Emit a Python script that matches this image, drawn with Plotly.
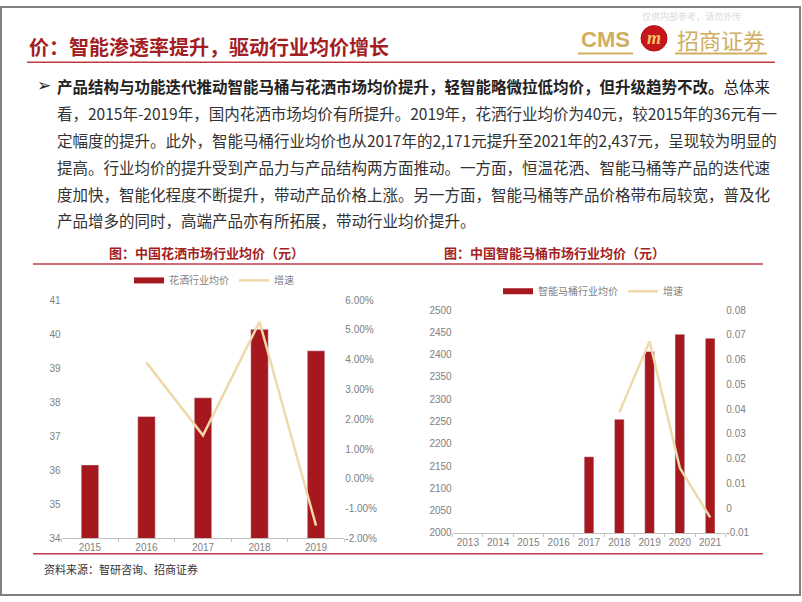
import plotly.graph_objects as go

W, H = 802, 602

# ---------------- data ----------------
shower_years = ['2015', '2016', '2017', '2018', '2019']
shower_price = [36.16, 37.58, 38.13, 40.14, 39.51]
shower_growth = [None, 0.039, 0.0146, 0.0527, -0.0157]

toilet_years = ['2013', '2014', '2015', '2016', '2017', '2018', '2019', '2020', '2021']
toilet_price = [None, None, None, None, 2171, 2255, 2407, 2446, 2437]
toilet_growth = [None, None, None, None, None, 0.0387, 0.0674, 0.0162, -0.0037]

shower_pct_ticks = [-0.02, -0.01, 0.0, 0.01, 0.02, 0.03, 0.04, 0.05, 0.06]
shower_pct_text = ['-2.00%', '-1.00%', '0.00%', '1.00%', '2.00%', '3.00%', '4.00%', '5.00%', '6.00%']
toilet_g_ticks = [-0.01, 0.0, 0.01, 0.02, 0.03, 0.04, 0.05, 0.06, 0.07, 0.08]
toilet_g_text = ['-0.01', '0', '0.01', '0.02', '0.03', '0.04', '0.05', '0.06', '0.07', '0.08']

header = '价：智能渗透率提升，驱动行业均价增长'
body_bold = '产品结构与功能迭代推动智能马桶与花洒市场均价提升，轻智能略微拉低均价，但升级趋势不改。'
body_lines = [
    '总体来',
    '看，2015年-2019年，国内花洒市场均价有所提升。2019年，花洒行业均价为40元，较2015年的36元有一',
    '定幅度的提升。此外，智能马桶行业均价也从2017年的2,171元提升至2021年的2,437元，呈现较为明显的',
    '提高。行业均价的提升受到产品力与产品结构两方面推动。一方面，恒温花洒、智能马桶等产品的迭代速',
    '度加快，智能化程度不断提升，带动产品价格上涨。另一方面，智能马桶等产品价格带布局较宽，普及化',
    '产品增多的同时，高端产品亦有所拓展，带动行业均价提升。',
]
title_left = '图：中国花洒市场行业均价（元）'
title_right = '图：中国智能马桶市场行业均价（元）'
source = '资料来源：智研咨询、招商证券'

# ---------------- styles ----------------
BAR = '#A5191E'
LINE = '#EFD9AA'
DARKRED = '#A31E22'
SEP = '#C23B4E'
GOLD = '#CFAE62'
TICKFONT = dict(family='Liberation Sans Narrow, Arial Narrow, Liberation Sans, sans-serif', size=10, color='#808080')
CJK = 'Noto Sans CJK SC, sans-serif'


def fx(x):
    return x / W


def fy(y):
    return 1 - y / H


fig = go.Figure()

# left chart
fig.add_trace(go.Bar(x=shower_years, y=shower_price, marker_color=BAR, width=0.31,
                     xaxis='x', yaxis='y', showlegend=False, name='花洒行业均价'))
fig.add_trace(go.Scatter(x=[None], y=[None], mode='lines', line=dict(color=BAR, width=6),
                         name='花洒行业均价', xaxis='x', yaxis='y', legend='legend'))
fig.add_trace(go.Scatter(x=shower_years, y=shower_growth, mode='lines', line=dict(color=LINE, width=2.5),
                         name='增速', xaxis='x', yaxis='y2', legend='legend'))

# right chart
fig.add_trace(go.Bar(x=toilet_years, y=toilet_price, marker_color=BAR, width=0.32,
                     xaxis='x2', yaxis='y3', showlegend=False, name='智能马桶行业均价'))
fig.add_trace(go.Scatter(x=[None], y=[None], mode='lines', line=dict(color=BAR, width=6),
                         name='智能马桶行业均价', xaxis='x2', yaxis='y3', legend='legend2'))
fig.add_trace(go.Scatter(x=toilet_years, y=toilet_growth, mode='lines', line=dict(color=LINE, width=2.5),
                         name='增速', xaxis='x2', yaxis='y4', legend='legend2'))

xcommon = dict(type='category', showgrid=False, showline=True, linecolor='#BFBFBF', linewidth=1,
               ticks='outside', tickson='boundaries', ticklen=3, tickcolor='#BFBFBF',
               tickfont=TICKFONT, tickangle=0, zeroline=False, fixedrange=True)
ycommon = dict(showgrid=False, showline=False, zeroline=False, ticks='', tickfont=TICKFONT, fixedrange=True)

fig.update_layout(
    width=W, height=H,
    margin=dict(l=0, r=0, t=0, b=0),
    paper_bgcolor='white', plot_bgcolor='white',
    xaxis=dict(domain=[fx(61.7), fx(344.3)], anchor='y', **xcommon),
    yaxis=dict(domain=[fy(543.3), fy(300)], range=[34, 41], dtick=1, anchor='x', **ycommon),
    yaxis2=dict(overlaying='y', side='right', anchor='x', range=[-0.02, 0.06],
                tickvals=shower_pct_ticks, ticktext=shower_pct_text, **ycommon),
    xaxis2=dict(domain=[fx(452.7), fx(725.3)], anchor='y3', **xcommon),
    yaxis3=dict(domain=[fy(537.7), fy(310.3)], range=[2000, 2500], dtick=50, anchor='x2', **ycommon),
    yaxis4=dict(overlaying='y3', side='right', anchor='x2', range=[-0.01, 0.08],
                tickvals=toilet_g_ticks, ticktext=toilet_g_text, **ycommon),
    legend=dict(orientation='h', x=fx(214), y=fy(280), xanchor='center', yanchor='middle',
                font=dict(family=CJK, size=10, color='#7F7F7F'), bgcolor='rgba(0,0,0,0)',
                itemwidth=30, tracegroupgap=0),
    legend2=dict(orientation='h', x=fx(593), y=fy(291), xanchor='center', yanchor='middle',
                 font=dict(family=CJK, size=10, color='#7F7F7F'), bgcolor='rgba(0,0,0,0)',
                 itemwidth=30, tracegroupgap=0),
)

shapes = []


def hline(x0, x1, y, color, width):
    shapes.append(dict(type='line', xref='paper', yref='paper', x0=fx(x0), x1=fx(x1), y0=fy(y), y1=fy(y),
                       line=dict(color=color, width=width)))


hline(27, 775, 57.5, '#C0393F', 1.5)
hline(33, 763, 263.3, SEP, 1.5)
hline(33, 763, 559, SEP, 1.5)
hline(578, 633, 48.5, GOLD, 2)
hline(675, 767, 48.5, GOLD, 2)
shapes.append(dict(type='circle', xref='paper', yref='paper', x0=fx(641), x1=fx(667), y0=fy(46), y1=fy(20),
                   fillcolor='#C8161D', line=dict(color='#B01218', width=1)))
shapes.append(dict(type='rect', xref='paper', yref='paper', x0=fx(1), x1=fx(800), y0=fy(601), y1=fy(1),
                   line=dict(color='#808080', width=2), fillcolor='rgba(0,0,0,0)'))
fig.update_layout(shapes=shapes)

ann = []


def text(x, y, s, size, color, xanchor='left', family=CJK, bold=False):
    ann.append(dict(xref='paper', yref='paper', x=fx(x), y=fy(y), text=s, showarrow=False,
                    xanchor=xanchor, yanchor='middle',
                    font=dict(family=family, size=size, color=color, weight='bold' if bold else 'normal')))


text(27, 41, header, 20, DARKRED, bold=True)
text(691, 11, '仅供内部参考，请勿外传', 9, '#DADADA', xanchor='center')
text(605.5, 34, 'CMS', 22, GOLD, xanchor='center', family='Liberation Sans, sans-serif', bold=True)
text(654, 33, '<i>m</i>', 18, '#F2C766', xanchor='center', family='Liberation Serif, serif', bold=True)
text(721, 34, '招商证券', 22, GOLD, xanchor='center')

text(44, 81, '➢', 17, '#222222', xanchor='center', family='DejaVu Sans, sans-serif')
body_font = 'Liberation Sans Narrow, Arial Narrow, Noto Sans CJK SC, sans-serif'
text(55, 82, '<b>' + body_bold + '</b>' + body_lines[0], 15.5, '#222222', family=body_font)
line_y = [109.5, 136.8, 164.1, 191.4, 218.7]
for yy, s in zip(line_y, body_lines[1:]):
    text(55, yy, s, 15.5, '#333333', family=body_font)

text(206, 252, title_left, 13, DARKRED, xanchor='center', bold=True)
text(554, 252, title_right, 13, DARKRED, xanchor='center', bold=True)
text(41.5, 574, source, 11, '#333333')

fig.update_layout(annotations=ann)

fig.write_html('out.html')
